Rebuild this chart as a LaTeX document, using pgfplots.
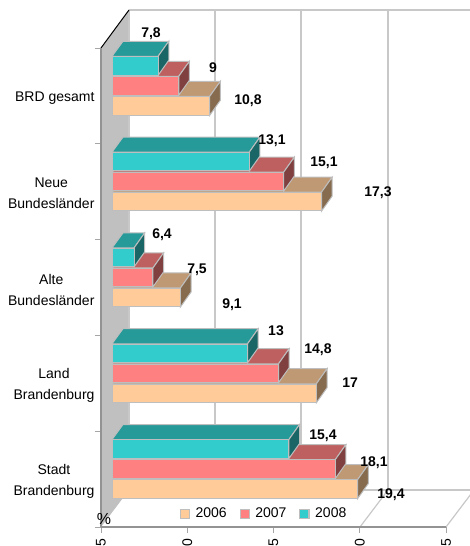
\documentclass[border=0pt]{standalone}
\usepackage{pgfplots}
\pgfplotsset{compat=1.18}
\usepackage{pgfplotstable}
\usepackage{fontspec}
\setmainfont{Liberation Sans}
\definecolor{gridc}{HTML}{C8C8C8}
\definecolor{edgec}{HTML}{BEBEBE}
\definecolor{wallc}{HTML}{C0C0C0}
\definecolor{ofront}{HTML}{FFCC99}
\definecolor{otop}{HTML}{BF9973}
\definecolor{oside}{HTML}{876B4F}
\definecolor{rfront}{HTML}{FF8080}
\definecolor{rtop}{HTML}{BF6060}
\definecolor{rside}{HTML}{804040}
\definecolor{tfront}{HTML}{33CCCC}
\definecolor{ttop}{HTML}{269999}
\definecolor{tside}{HTML}{1A6666}
\pgfplotstableread{
cat v2006 v2007 v2008
0 19.4 18.1 15.4
1 17 14.8 13
2 9.1 7.5 6.4
3 17.3 15.1 13.1
4 10.8 9 7.8
}\datatable
\pgfplotstableread{
px py lab
151 34 {7,8}
213 68 {9}
248 101 {10,8}
272 141 {13,1}
324 163 {15,1}
378 193 {17,3}
162 235 {6,4}
197 270 {7,5}
232 305 {9,1}
276 331 {13}
318 350 {14,8}
350 383 {17}
323 436 {15,4}
374 463 {18,1}
391 495 {19,4}
}\labeltable
% side and top faces of a bar: category, value, shift of the bar centre (pt), top colour, side colour
\newcommand\barfaces[5]{%
  \pgfmathsetmacro\yt{#1+(#3+9.5)/95.8}%
  \pgfmathsetmacro\yb{#1+(#3-9.5)/95.8}%
  \pgfmathsetmacro\ytt{\yt+0.157}%
  \pgfmathsetmacro\ybb{\yb+0.157}%
  \pgfmathsetmacro\xe{#2+0.62}%
  \addplot[forget plot,fill=#4,draw=edgec,line width=1pt] coordinates {(5.12,\yt)(#2,\yt)(\xe,\ytt)(5.76,\ytt)} --cycle;
  \addplot[forget plot,fill=#5,draw=edgec,line width=1pt] coordinates {(#2,\yt)(\xe,\ytt)(\xe,\ybb)(#2,\yb)} --cycle;
}
\begin{document}
\begin{tikzpicture}
\path[use as bounding box,clip] (0pt,0pt) rectangle (470pt,546pt);
% walls and floor (y = 546 - pixel row)
\fill[wallc] (101pt,498pt) -- (129pt,536pt) -- (129pt,56pt) -- (101pt,19pt) -- cycle;
\draw[gridc,line width=1.4pt] (129pt,536pt) -- (470pt,536pt);
\draw[gridc,line width=1.4pt] (129pt,536pt) -- (129pt,56pt);
\foreach \x in {215,301,388}{\draw[gridc,line width=1.4pt] (\x pt,536pt) -- (\x pt,56pt);}
\draw[gridc,line width=1.4pt] (129pt,56pt) -- (470pt,56pt);
\foreach \x in {187,273,360,446}{\draw[gridc,line width=1.2pt] (\x pt,19pt) -- ++(28pt,37pt);}
\fill[white] (131pt,20pt) rectangle (358pt,47pt);
\draw[black,line width=1pt] (101pt,498pt) -- (129pt,536pt);
\begin{axis}[
  at={(101pt,19pt)},anchor=south west,
  scale only axis,width=345pt,height=479pt,
  xmin=5,xmax=25,ymin=-0.5,ymax=4.5,
  clip=false,
  axis x line*=bottom,axis y line*=left,
  axis line style={draw=gray!85!white,line width=1.3pt,-},
  xtick={5,10,15,20,25},
  xticklabels={5,10,15,20,25},
  x tick label style={rotate=90,anchor=east,font=\fontsize{14}{16}\selectfont},
  xticklabel shift=2pt,
  major x tick style={draw=gray!70!white,line width=.8pt},
  major tick length=6pt,
  ytick={0,1,2,3,4},
  yticklabels={{Stadt\\Brandenburg},{Land\\Brandenburg},{Alte\\Bundesländer},{Neue\\Bundesländer},{\raisebox{-3pt}{BRD gesamt}}},
  y tick label style={align=center,font=\fontsize{14}{21}\selectfont,yshift=-2pt,xshift=3pt},
  major y tick style={draw=none},
  minor ytick={-0.5,0.5,1.5,2.5,3.5,4.5},
  minor tick length=6pt,
  minor y tick style={draw=gray!70!white,line width=.8pt},
  tick align=outside,
  /pgf/number format/assume math mode=true,
]
\end{axis}
\node[font=\fontsize{16}{18}\selectfont,anchor=center] at (104pt,27pt) {\%};
\begin{axis}[
  at={(112pt,19pt)},anchor=south west,
  scale only axis,width=342pt,height=527pt,
  xmin=5.12,xmax=25,ymin=-0.5,ymax=5,
  hide axis,
  legend columns=3,
  legend style={at={(axis cs:13.96,-0.36)},anchor=center,draw=none,fill=none,font=\fontsize{14}{16}\selectfont,
    /tikz/every even column/.style={column sep=11pt},
    inner sep=0pt},
  legend image code/.code={\draw[#1,draw=edgec,line width=1pt,fill] (0pt,-4.5pt) rectangle (9pt,4.5pt); \path (13pt,0pt);},
]
\addlegendimage{fill=ofront}
\addlegendimage{fill=rfront}
\addlegendimage{fill=tfront}
% 2006
\barfaces{0}{19.4}{-10}{otop}{oside}
\barfaces{1}{17}{-10}{otop}{oside}
\barfaces{2}{9.1}{-10}{otop}{oside}
\barfaces{3}{17.3}{-10}{otop}{oside}
\barfaces{4}{10.8}{-10}{otop}{oside}
\addplot[forget plot,xbar,bar shift=-10pt,bar width=18.5pt,fill=ofront,draw=edgec,line width=1pt] table[x=v2006,y=cat]{\datatable};
% 2007
\barfaces{0}{18.1}{10}{rtop}{rside}
\barfaces{1}{14.8}{10}{rtop}{rside}
\barfaces{2}{7.5}{10}{rtop}{rside}
\barfaces{3}{15.1}{10}{rtop}{rside}
\barfaces{4}{9}{10}{rtop}{rside}
\addplot[forget plot,xbar,bar shift=10pt,bar width=18.5pt,fill=rfront,draw=edgec,line width=1pt] table[x=v2007,y=cat]{\datatable};
% 2008
\barfaces{0}{15.4}{30}{ttop}{tside}
\barfaces{1}{13}{30}{ttop}{tside}
\barfaces{2}{6.4}{30}{ttop}{tside}
\barfaces{3}{13.1}{30}{ttop}{tside}
\barfaces{4}{7.8}{30}{ttop}{tside}
\addplot[forget plot,xbar,bar shift=30pt,bar width=18.5pt,fill=tfront,draw=edgec,line width=1pt] table[x=v2008,y=cat]{\datatable};
\addplot[forget plot,draw=none,mark=none,nodes near coords,point meta=explicit symbolic,
  every node near coord/.style={anchor=center,inner sep=0pt,font=\fontsize{14}{16}\bfseries\selectfont}]
  table[x expr=5.12+(\thisrow{px}-112)/17.2,y expr=4.5-(\thisrow{py}-48)/95.8,meta=lab]{\labeltable};
\legend{2006,2007,2008}
\end{axis}
\end{tikzpicture}
\end{document}
